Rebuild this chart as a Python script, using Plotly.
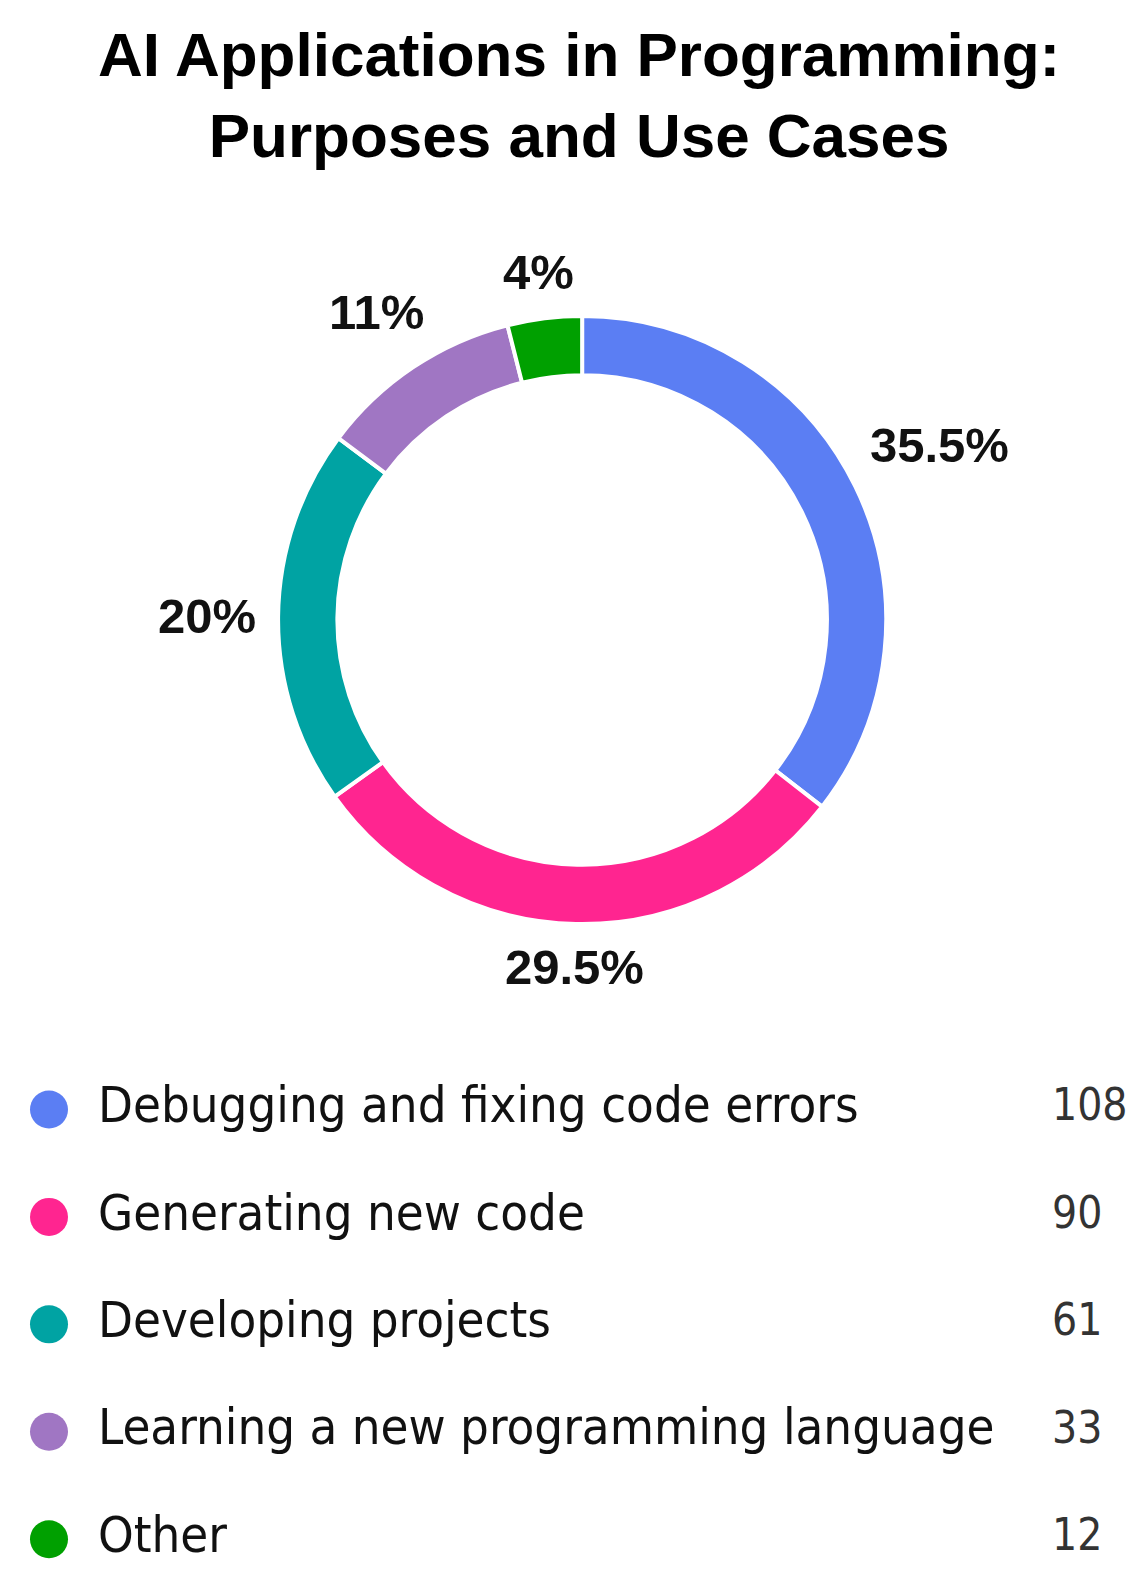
import numpy as np
import plotly.graph_objects as go

# ----- DATA -----
purposes = [
    "Debugging and fixing code errors",
    "Generating new code",
    "Developing projects",
    "Learning a new programming language",
    "Other",
]
counts = [108, 90, 61, 33, 12]
pct_labels = ["35.5%", "29.5%", "20%", "11%", "4%"]
colors = ["#5B7EF3", "#FF2590", "#00A3A3", "#A076C3", "#00A000"]

W, H = 1142, 1587
narrow = "Liberation Sans Narrow, DejaVu Sans Condensed, Arial, sans-serif"
bold = "Liberation Sans, Arial, sans-serif"

# donut geometry (paper units)
pie_x = [0.2365, 0.769]
pie_y = [0.4228, 0.806]
cx, cy = sum(pie_x) / 2, sum(pie_y) / 2
R = (pie_x[1] - pie_x[0]) * W / 2
pct_size = 49

fig = go.Figure()

# ----- DONUT -----
fig.add_trace(go.Pie(
    labels=purposes,
    values=counts,
    textinfo="none",
    marker=dict(colors=colors, line=dict(color="white", width=4)),
    hole=0.805,
    sort=False,
    direction="clockwise",
    rotation=0,
    showlegend=False,
    domain=dict(x=pie_x, y=pie_y),
))

# percent labels just outside each slice, at its mid angle
char_w = {".": 0.278, "%": 0.889}
frac = np.array(counts) / sum(counts)
mids = (np.cumsum(frac) - frac / 2) * 2 * np.pi
annotations = []
for lab, th in zip(pct_labels, mids):
    dx, dy = np.sin(th), np.cos(th)
    w = sum(char_w.get(c, 0.556) for c in lab) * pct_size
    h = 40
    dist = R + 22 + abs(dx) * w / 2 + abs(dy) * h / 2
    annotations.append(dict(
        text=lab, xref="paper", yref="paper",
        x=cx + dist * dx / W, y=cy + dist * dy / H,
        xanchor="center", yanchor="middle", showarrow=False,
        font=dict(family=bold, size=pct_size, color="#111111", weight="bold"),
    ))

# ----- LEGEND ROWS (dots, names, counts) -----
fig.add_trace(go.Scatter(
    x=[41] * len(purposes), y=purposes, mode="markers",
    marker=dict(color=colors, size=38, line=dict(width=0)),
    showlegend=False, hoverinfo="skip",
))
fig.add_trace(go.Scatter(
    x=[90] * len(purposes), y=purposes, mode="text",
    text=purposes, textposition="middle right",
    textfont=dict(family=narrow, size=50.5, color="#111111"),
    showlegend=False, hoverinfo="skip",
))
fig.add_trace(go.Scatter(
    x=[1044] * len(purposes), y=purposes, mode="text",
    text=[str(c) for c in counts], textposition="middle right",
    textfont=dict(family=narrow, size=44, color="#333333"),
    showlegend=False, hoverinfo="skip",
))

annotations.append(dict(
    text="AI Applications in Programming:<br>Purposes and Use Cases",
    xref="paper", yref="paper", x=0.5, y=0.945,
    xanchor="center", yanchor="middle", showarrow=False,
    font=dict(family=bold, size=62, color="#000000", weight="bold"),
))

fig.update_layout(
    width=W, height=H,
    margin=dict(l=0, r=0, t=0, b=0),
    paper_bgcolor="white", plot_bgcolor="white",
    xaxis=dict(range=[0, W], visible=False, fixedrange=True),
    yaxis=dict(domain=[0.0013, 0.3398], range=[4.5, -0.5], type="category",
               visible=False, fixedrange=True),
    annotations=annotations,
)

fig.write_html("out.html")
